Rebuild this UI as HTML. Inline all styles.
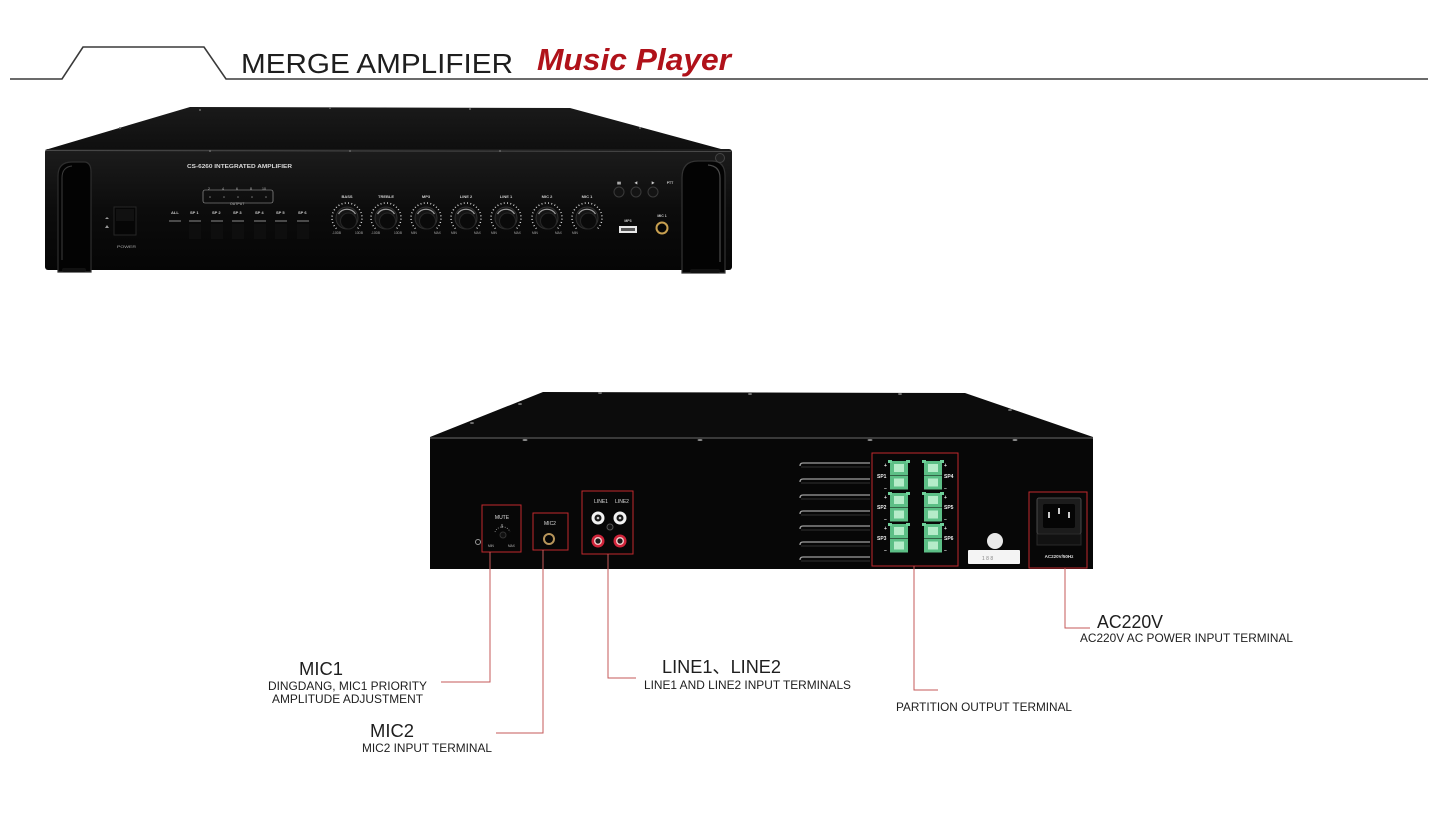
<!DOCTYPE html>
<html><head><meta charset="utf-8">
<style>
html,body{margin:0;padding:0;background:#fff;}
svg{display:block;}
text{font-family:"Liberation Sans","Noto Sans CJK SC",sans-serif;}
</style></head>
<body>
<svg width="1442" height="831" viewBox="0 0 1442 831" xmlns="http://www.w3.org/2000/svg">
<defs>
  <linearGradient id="fp" x1="0" y1="0" x2="0" y2="1">
    <stop offset="0" stop-color="#1c1c1c"/>
    <stop offset="0.5" stop-color="#0c0c0c"/>
    <stop offset="1" stop-color="#050505"/>
  </linearGradient>
  <linearGradient id="tf" x1="0" y1="0" x2="0" y2="1">
    <stop offset="0" stop-color="#1a1a1a"/>
    <stop offset="1" stop-color="#0e0e0e"/>
  </linearGradient>
  <g id="knob">
    <path d="M-10.6 10.6 A15 15 0 1 1 10.6 10.6" fill="none" stroke="#e0e0e0" stroke-width="1.5" stroke-dasharray="0.9 2.4"/>
    <circle r="11" fill="#141414" stroke="#303030" stroke-width="1"/>
    <path d="M-8.5 -4 A10 10 0 0 1 8.5 -4" fill="none" stroke="#9a9a9a" stroke-width="1.3"/>
    <circle cx="1.5" cy="3" r="8" fill="#0a0a0a" stroke="#262626"/>
  </g>
  <g id="term">
    <rect x="0" y="0" width="18" height="14" fill="#5cbf86"/>
    <rect x="4" y="3" width="10" height="8" fill="#b5ecc9"/>
    <rect x="0" y="14.5" width="18" height="14" fill="#5cbf86"/>
    <rect x="4" y="17.5" width="10" height="8" fill="#b5ecc9"/>
    <rect x="-2" y="-1" width="4" height="3" fill="#6fd09a"/>
    <rect x="16" y="-1" width="4" height="3" fill="#6fd09a"/>
  </g>
  <g id="rcaW">
    <circle r="6.5" fill="#f2f2f2"/>
    <circle r="3.5" fill="#1a1a1a"/>
    <circle r="1.3" fill="#ccc"/>
  </g>
  <g id="rcaR">
    <circle r="6.5" fill="#d0243a"/>
    <circle r="4" fill="#f0c8c8"/>
    <circle r="2.6" fill="#1a1a1a"/>
  </g>
</defs>

<rect width="1442" height="831" fill="#ffffff"/>

<!-- Header -->
<polyline points="10,79 62,79 83,47 204,47 226,79 1428,79" fill="none" stroke="#3a3a3a" stroke-width="1.6"/>
<text x="241" y="73" font-size="28" fill="#1e1e1e" textLength="272" lengthAdjust="spacingAndGlyphs">MERGE AMPLIFIER</text>
<text x="537" y="70" font-size="31" font-weight="bold" font-style="italic" fill="#b0121a" textLength="194" lengthAdjust="spacingAndGlyphs">Music Player</text>

<!-- ===== FRONT UNIT ===== -->
<polygon points="45,150 190,107 570,108 732,152" fill="url(#tf)"/>
<g fill="#6a6a6a">
  <circle cx="200" cy="110" r="1"/><circle cx="330" cy="108" r="1"/><circle cx="470" cy="109" r="1"/>
  <circle cx="120" cy="128" r="1"/><circle cx="640" cy="128" r="1"/>
</g>
<rect x="45" y="149" width="687" height="121" rx="3" fill="url(#fp)"/>
<line x1="46" y1="150.5" x2="731" y2="151.5" stroke="#4a4a4a" stroke-width="1"/>
<g fill="#6a6a6a">
  <circle cx="210" cy="151" r="1"/><circle cx="350" cy="151" r="1"/><circle cx="500" cy="151" r="1"/>
</g>

<!-- left handle -->
<path d="M58 272 L58 176 Q58 162 72 162 L84 162 Q91 162 91 172 L91 272 Z" fill="#030303" stroke="#2e2e2e" stroke-width="1.2"/>
<path d="M62 260 L62 178 Q62 167 72 166" fill="none" stroke="#3c3c3c" stroke-width="1"/>
<!-- right handle -->
<path d="M682 273 L682 178 Q682 161 698 161 L712 161 Q725 161 725 176 L725 273 Z" fill="#030303" stroke="#333" stroke-width="1.2"/>
<path d="M720 262 L720 178 Q720 166 708 165" fill="none" stroke="#4a4a4a" stroke-width="1.2"/>
<circle cx="720" cy="158" r="4.5" fill="#1f1f1f" stroke="#444"/>

<!-- panel text -->
<text x="187" y="168" font-size="5.5" font-weight="bold" fill="#d8d8d8" textLength="105" lengthAdjust="spacingAndGlyphs" font-family="Liberation Serif, serif">CS-6260 INTEGRATED AMPLIFIER</text>
<rect x="203" y="190" width="70" height="13" rx="2" fill="none" stroke="#aaa" stroke-width="0.6"/>
<g font-size="3.5" fill="#bbb">
  <text x="208" y="190">2</text><text x="222" y="190">4</text><text x="236" y="190">6</text><text x="250" y="190">8</text><text x="262" y="190">10</text>
  <text x="230" y="205" font-size="3.5">OUTPUT</text>
</g>
<g fill="#777"><circle cx="210" cy="197" r="0.8"/><circle cx="224" cy="197" r="0.8"/><circle cx="238" cy="197" r="0.8"/><circle cx="252" cy="197" r="0.8"/><circle cx="266" cy="197" r="0.8"/></g>

<!-- power -->
<rect x="114" y="207" width="22" height="28" fill="#060606" stroke="#262626"/>
<rect x="116" y="209" width="18" height="12" fill="#111"/>
<text x="117" y="248" font-size="4" fill="#aaa" textLength="19" lengthAdjust="spacingAndGlyphs">POWER</text>
<path d="M105 219 l2 -2 l2 2 z M105 228 l2 -3 l2 3 z" fill="#999"/>

<!-- switches -->
<g font-size="4" fill="#cfcfcf" font-weight="bold">
  <text x="171" y="214">ALL</text><text x="190" y="214">SP 1</text><text x="212" y="214">SP 2</text>
  <text x="233" y="214">SP 3</text><text x="255" y="214">SP 4</text><text x="276" y="214">SP 5</text><text x="298" y="214">SP 6</text>
</g>
<g stroke="#8a8a8a" stroke-width="1">
  <line x1="169" y1="221" x2="181" y2="221"/><line x1="189" y1="221" x2="201" y2="221"/><line x1="211" y1="221" x2="223" y2="221"/>
  <line x1="232" y1="221" x2="244" y2="221"/><line x1="254" y1="221" x2="266" y2="221"/><line x1="275" y1="221" x2="287" y2="221"/><line x1="297" y1="221" x2="309" y2="221"/>
</g>
<g fill="#0e0e0e">
  <rect x="189" y="224" width="12" height="15"/><rect x="211" y="224" width="12" height="15"/><rect x="232" y="224" width="12" height="15"/>
  <rect x="254" y="224" width="12" height="15"/><rect x="275" y="224" width="12" height="15"/><rect x="297" y="224" width="12" height="15"/>
</g>

<!-- knobs -->
<g font-size="4" fill="#d0d0d0" font-weight="bold" text-anchor="middle">
  <text x="347" y="198">BASS</text><text x="386" y="198">TREBLE</text><text x="426" y="198">MP3</text>
  <text x="466" y="198">LINE 2</text><text x="506" y="198">LINE 1</text><text x="547" y="198">MIC 2</text><text x="587" y="198">MIC 1</text>
</g>
<use href="#knob" x="347" y="218"/>
<use href="#knob" x="386" y="218"/>
<use href="#knob" x="426" y="218"/>
<use href="#knob" x="466" y="218"/>
<use href="#knob" x="506" y="218"/>
<use href="#knob" x="547" y="218"/>
<use href="#knob" x="587" y="218"/>
<g font-size="3.2" fill="#aaa">
  <text x="332" y="234">-10DB</text><text x="355" y="234">10DB</text>
  <text x="371" y="234">-10DB</text><text x="394" y="234">10DB</text>
  <text x="411" y="234">MIN</text><text x="434" y="234">MAX</text>
  <text x="451" y="234">MIN</text><text x="474" y="234">MAX</text>
  <text x="491" y="234">MIN</text><text x="514" y="234">MAX</text>
  <text x="532" y="234">MIN</text><text x="555" y="234">MAX</text>
  <text x="572" y="234">MIN</text>
</g>

<!-- buttons, usb, mic -->
<g font-size="3.5" fill="#ccc" font-weight="bold" text-anchor="middle">
  <text x="619" y="184">&#9646;&#9646;</text><text x="636" y="184">&#9664;</text><text x="653" y="184">&#9654;</text><text x="670" y="184">PTT</text>
  <text x="628" y="222">MP3</text><text x="662" y="217">MIC 1</text>
</g>
<circle cx="619" cy="192" r="5" fill="#141414" stroke="#3a3a3a"/>
<circle cx="636" cy="192" r="5" fill="#141414" stroke="#3a3a3a"/>
<circle cx="653" cy="192" r="5" fill="#141414" stroke="#3a3a3a"/>
<rect x="619" y="226" width="18" height="7" fill="#e8e8e8"/>
<rect x="621" y="228" width="14" height="3" fill="#555"/>
<circle cx="662" cy="228" r="6.5" fill="#c8a050"/>
<circle cx="662" cy="228" r="4.5" fill="#050505"/>

<!-- feet -->
<rect x="62" y="268" width="24" height="4" rx="2" fill="#111"/>
<rect x="690" y="269" width="30" height="4" rx="2" fill="#111"/>

<!-- ===== REAR UNIT ===== -->
<polygon points="430,437 543,392 965,393 1093,437" fill="#0c0c0c"/>
<g fill="#707070">
  <ellipse cx="472" cy="423" rx="2" ry="1"/><ellipse cx="520" cy="404" rx="2" ry="1"/><ellipse cx="600" cy="393" rx="2" ry="1"/>
  <ellipse cx="750" cy="394" rx="2" ry="1"/><ellipse cx="900" cy="394" rx="2" ry="1"/><ellipse cx="1010" cy="410" rx="2" ry="1"/>
</g>
<rect x="430" y="437" width="663" height="132" fill="#070707"/>
<line x1="430" y1="438" x2="1093" y2="438" stroke="#5a5a5a" stroke-width="1.2"/>
<g fill="#8a8a8a">
  <ellipse cx="525" cy="440" rx="2.5" ry="1"/><ellipse cx="700" cy="440" rx="2.5" ry="1"/><ellipse cx="870" cy="440" rx="2.5" ry="1"/><ellipse cx="1015" cy="440" rx="2.5" ry="1"/>
</g>

<!-- mute -->
<circle cx="478" cy="542" r="2.5" fill="none" stroke="#999" stroke-width="1"/>
<rect x="482" y="505" width="39" height="47" fill="none" stroke="#c0282d" stroke-width="1"/>
<text x="502" y="519" font-size="5" fill="#ddd" text-anchor="middle">MUTE</text>
<path d="M495 532 A8 8 0 0 1 510 532" fill="none" stroke="#bbb" stroke-width="0.8" stroke-dasharray="0.8 1.6"/>
<line x1="502" y1="524" x2="502" y2="528" stroke="#bbb" stroke-width="0.8"/>
<circle cx="503" cy="535" r="3" fill="#111" stroke="#333"/>
<text x="488" y="547" font-size="3.2" fill="#bbb">MIN</text><text x="508" y="547" font-size="3.2" fill="#bbb">MAX</text>

<!-- mic2 -->
<rect x="533" y="513" width="35" height="37" fill="none" stroke="#c0282d" stroke-width="1"/>
<text x="550" y="525" font-size="5" fill="#ddd" text-anchor="middle">MIC2</text>
<circle cx="549" cy="539" r="6" fill="#b8955a"/>
<circle cx="549" cy="539" r="4" fill="#050505"/>

<!-- line in -->
<rect x="582" y="491" width="51" height="63" fill="none" stroke="#c0282d" stroke-width="1"/>
<text x="601" y="503" font-size="5" fill="#ddd" text-anchor="middle">LINE1</text>
<text x="622" y="503" font-size="5" fill="#ddd" text-anchor="middle">LINE2</text>
<use href="#rcaW" x="598" y="518"/>
<use href="#rcaW" x="620" y="518"/>
<circle cx="610" cy="527" r="3" fill="#111" stroke="#555"/>
<use href="#rcaR" x="598" y="541"/>
<use href="#rcaR" x="620" y="541"/>

<!-- vents -->
<g fill="none" stroke="#a0a0a0" stroke-width="1.3">
  <path d="M870 463 L803 463 Q800 463 800 466"/>
  <path d="M870 479 L803 479 Q800 479 800 482"/>
  <path d="M870 495 L803 495 Q800 495 800 498"/>
  <path d="M870 511 L803 511 Q800 511 800 514"/>
  <path d="M870 526 L803 526 Q800 526 800 529"/>
  <path d="M870 542 L803 542 Q800 542 800 545"/>
  <path d="M870 557 L803 557 Q800 557 800 560"/>
</g>
<g fill="none" stroke="#2a2a2a" stroke-width="1.3">
  <path d="M870 467 L801 467"/><path d="M870 483 L801 483"/><path d="M870 499 L801 499"/><path d="M870 515 L801 515"/>
  <path d="M870 530 L801 530"/><path d="M870 546 L801 546"/><path d="M870 561 L801 561"/>
</g>

<!-- speaker terminals -->
<rect x="872" y="453" width="86" height="113" fill="none" stroke="#c0282d" stroke-width="1"/>
<use href="#term" x="890" y="461"/>
<use href="#term" x="924" y="461"/>
<use href="#term" x="890" y="493"/>
<use href="#term" x="924" y="493"/>
<use href="#term" x="890" y="524"/>
<use href="#term" x="924" y="524"/>
<g font-size="5" fill="#eee" font-weight="bold">
  <text x="877" y="478">SP1</text><text x="877" y="509">SP2</text><text x="877" y="540">SP3</text>
  <text x="944" y="478">SP4</text><text x="944" y="509">SP5</text><text x="944" y="540">SP6</text>
  <text x="884" y="467">+</text><text x="884" y="490">–</text>
  <text x="884" y="499">+</text><text x="884" y="521">–</text>
  <text x="884" y="530">+</text><text x="884" y="552">–</text>
  <text x="944" y="467">+</text><text x="944" y="490">–</text>
  <text x="944" y="499">+</text><text x="944" y="521">–</text>
  <text x="944" y="530">+</text><text x="944" y="552">–</text>
</g>

<!-- label & fuse -->
<circle cx="995" cy="541" r="8" fill="#e8e8e8"/>
<rect x="968" y="550" width="52" height="14" rx="1" fill="#f4f4f4"/>
<text x="982" y="560" font-size="5" fill="#888">1  8    8</text>

<!-- AC -->
<rect x="1029" y="492" width="58" height="76" fill="none" stroke="#c0282d" stroke-width="1"/>
<rect x="1037" y="498" width="44" height="36" rx="2" fill="#1c1c1c" stroke="#4a4a4a"/>
<rect x="1043" y="504" width="32" height="24" rx="2" fill="#050505"/>
<rect x="1048" y="512" width="2" height="6" fill="#ccc"/>
<rect x="1058" y="508" width="2" height="6" fill="#ccc"/>
<rect x="1068" y="512" width="2" height="6" fill="#ccc"/>
<rect x="1037" y="534" width="44" height="11" fill="#121212" stroke="#2a2a2a"/>
<text x="1059" y="558" font-size="4.5" fill="#ddd" text-anchor="middle" font-weight="bold">AC220V/50Hz</text>

<!-- connectors -->
<g fill="none" stroke="#c45a5a" stroke-width="1">
  <polyline points="490,552 490,682 441,682"/>
  <polyline points="543,550 543,733 496,733"/>
  <polyline points="608,554 608,678 636,678"/>
  <polyline points="914,566 914,690 938,690"/>
  <polyline points="1065,568 1065,628 1090,628"/>
</g>

<!-- labels -->
<g fill="#1e1e1e">
  <text x="299" y="675" font-size="18" textLength="44" lengthAdjust="spacingAndGlyphs">MIC1</text>
  <text x="268" y="690" font-size="12" textLength="159" lengthAdjust="spacingAndGlyphs">DINGDANG, MIC1 PRIORITY</text>
  <text x="272" y="703" font-size="12" textLength="151" lengthAdjust="spacingAndGlyphs">AMPLITUDE ADJUSTMENT</text>
  <text x="370" y="737" font-size="18" textLength="44" lengthAdjust="spacingAndGlyphs">MIC2</text>
  <text x="362" y="752" font-size="12" textLength="130" lengthAdjust="spacingAndGlyphs">MIC2 INPUT TERMINAL</text>
  <text x="662" y="673" font-size="18" textLength="119" lengthAdjust="spacingAndGlyphs">LINE1、LINE2</text>
  <text x="644" y="689" font-size="12" textLength="207" lengthAdjust="spacingAndGlyphs">LINE1 AND LINE2 INPUT TERMINALS</text>
  <text x="896" y="711" font-size="12" textLength="176" lengthAdjust="spacingAndGlyphs">PARTITION OUTPUT TERMINAL</text>
  <text x="1097" y="628" font-size="18" textLength="66" lengthAdjust="spacingAndGlyphs">AC220V</text>
  <text x="1080" y="642" font-size="12" textLength="213" lengthAdjust="spacingAndGlyphs">AC220V AC POWER INPUT TERMINAL</text>
</g>
</svg>
</body></html>
